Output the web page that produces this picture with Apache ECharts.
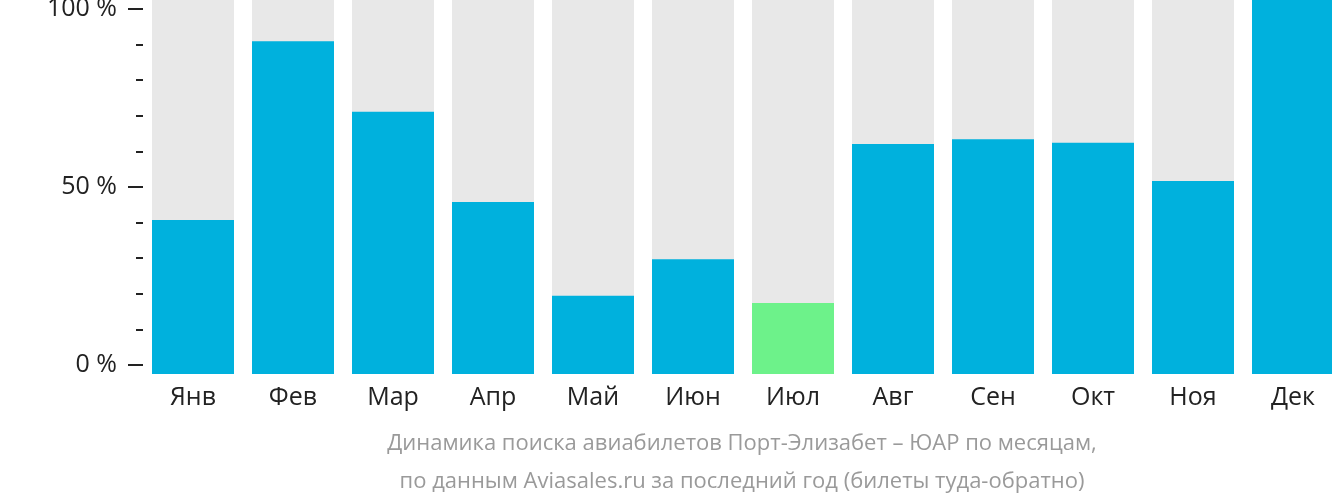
<!DOCTYPE html>
<html>
<head>
<meta charset="utf-8">
<script src="https://cdn.jsdelivr.net/npm/echarts@6/dist/echarts.min.js"></script>
<style>
html,body{margin:0;padding:0;background:#fff;}
#c{width:1332px;height:502px;}
</style>
</head>
<body>
<div id="c"></div>
<script>
const months = ['Янв','Фев','Мар','Апр','Май','Июн','Июл','Авг','Сен','Окт','Ноя','Дек'];
const values = [41.2, 89.0, 70.1, 46.0, 20.9, 30.7, 19.0, 61.5, 62.8, 61.8, 51.6, 100];
const highlightMonth = 'Июл';
const tickLabels = {0: '0 %', 50: '50 %', 100: '100 %'};
const subtitleLines = [
  'Динамика поиска авиабилетов Порт-Элизабет – ЮАР по месяцам,',
  'по данным Aviasales.ru за последний год (билеты туда-обратно)'
];

const BLUE = '#00b1dd', GREEN = '#6df28a', GRAY = '#e8e8e8';
const FONT = 'Open Sans';

const chart = echarts.init(document.getElementById('c'), null, {renderer: 'canvas'});
chart.setOption({
  animation: false,
  grid: [
    {left: 143, width: 1200, top: 0, height: 374, outerBoundsMode: 'none', containLabel: false},
    {left: 143, width: 1200, top: 9, height: 356, outerBoundsMode: 'none', containLabel: false}
  ],
  xAxis: [
    {
      type: 'category', gridIndex: 0, data: months,
      axisLine: {show: false}, axisTick: {show: false},
      axisLabel: {fontSize: 25, color: '#222', fontFamily: FONT, margin: 11}
    },
    {type: 'category', gridIndex: 1, data: months, show: false}
  ],
  yAxis: [
    {type: 'value', gridIndex: 0, min: 0, max: 100, show: false},
    {
      type: 'value', gridIndex: 1, position: 'left', min: 0, max: 100, interval: 10,
      axisLine: {show: false}, splitLine: {show: false},
      axisTick: {show: true, length: 7, lineStyle: {color: '#222', width: 2}},
      axisLabel: {show: false}
    },
    {
      type: 'value', gridIndex: 1, position: 'left', offset: 0, min: 0, max: 100, interval: 50,
      axisLine: {show: false}, splitLine: {show: false},
      axisTick: {show: true, length: 15, lineStyle: {color: '#222', width: 2}},
      axisLabel: {
        show: true, margin: 26, fontSize: 25, color: '#222', fontFamily: FONT,
        padding: [3, 0, 0, 0],
        formatter: v => tickLabels[v] || ''
      }
    }
  ],
  graphic: subtitleLines.map((t, i) => ({
    type: 'text', x: 742, y: 444 + i * 38,
    style: {text: t, fontSize: 22, fontFamily: FONT, fill: '#9a9a9a', align: 'center', verticalAlign: 'middle'}
  })),
  series: [{
    type: 'bar', xAxisIndex: 0, yAxisIndex: 0,
    barWidth: 82,
    showBackground: true,
    backgroundStyle: {color: GRAY},
    data: values.map((v, i) => ({
      value: v,
      itemStyle: {color: months[i] === highlightMonth ? GREEN : BLUE}
    }))
  }]
});
</script>
</body>
</html>
